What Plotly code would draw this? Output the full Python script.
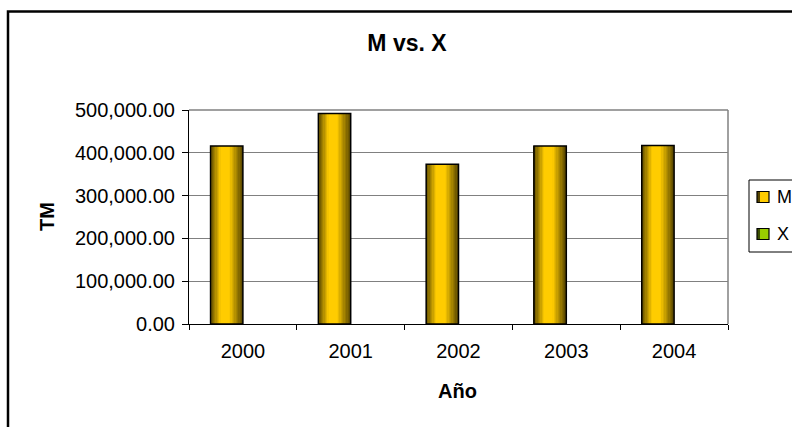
import plotly.graph_objects as go

# ---- data -------------------------------------------------------------
years = ["2000", "2001", "2002", "2003", "2004"]
m_values = [416000, 492000, 373000, 416000, 417000]
x_values = [0, 0, 0, 0, 0]
y_ticks = [0, 100000, 200000, 300000, 400000, 500000]

# ---- layout constants (pixels) -----------------------------------------
W, H = 792, 427
L, R, T, B = 189, 728, 110, 324          # plot area edges
FONT = "Liberation Sans, Arial, sans-serif"
BAR_W = 0.30                              # bar width in category units
N_STRIPS = 24

DARK = (88, 70, 0)
BRIGHT = (255, 204, 0)


def px(x):
    return (x - L) / (R - L)


def py(y):
    return (B - y) / (B - T)


def shade(t, peak=0.45):
    f = t / peak if t < peak else (1 - t) / (1 - peak)
    f = min(1.0, f * 1.35)
    c = [round(d + (b - d) * f) for d, b in zip(DARK, BRIGHT)]
    return "rgb(%d,%d,%d)" % tuple(c)


fig = go.Figure()

# base fill for series M
fig.add_trace(go.Bar(
    x=years, y=m_values, name="M", offset=-BAR_W, width=BAR_W,
    marker=dict(color="#FFCC00", line=dict(width=0)),
    showlegend=False, hoverinfo="skip",
))

# horizontal cylinder-like shading, drawn as thin slices of each bar
sw = BAR_W / N_STRIPS
for i in range(N_STRIPS):
    t = (i + 0.5) / N_STRIPS
    fig.add_trace(go.Bar(
        x=years, y=m_values, offset=-BAR_W + i * sw,
        width=sw * (1.15 if i < N_STRIPS - 1 else 1.0),
        marker=dict(color=shade(t), line=dict(width=0)),
        showlegend=False, hoverinfo="skip",
    ))

# outline of series M
fig.add_trace(go.Bar(
    x=years, y=m_values, name="M", offset=-BAR_W, width=BAR_W,
    marker=dict(color="rgba(0,0,0,0)", line=dict(color="black", width=1.5)),
    showlegend=False,
))

# series X (all zero)
fig.add_trace(go.Bar(
    x=years, y=x_values, name="X", offset=0, width=BAR_W,
    marker=dict(color="#99CC00", line=dict(width=0)),
    showlegend=False,
))

shapes = [
    # plot-area border (top / right)
    dict(type="line", xref="paper", yref="paper", x0=0, x1=1, y0=1, y1=1,
         line=dict(color="#808080", width=1.5)),
    dict(type="line", xref="paper", yref="paper", x0=1, x1=1, y0=0, y1=1,
         line=dict(color="#808080", width=1.5)),
    # chart-area frame
    dict(type="rect", xref="paper", yref="paper",
         x0=px(8), x1=px(830), y0=py(11.5), y1=py(470),
         line=dict(color="black", width=2.5), fillcolor="rgba(0,0,0,0)"),
    # legend box
    dict(type="rect", xref="paper", yref="paper",
         x0=px(749), x1=px(830), y0=py(180), y1=py(252),
         line=dict(color="black", width=1), fillcolor="white"),
]

annotations = []
legend_items = [("M", 197, DARK, BRIGHT), ("X", 234, (60, 80, 0), (153, 204, 0))]
for name, cy, dk, br in legend_items:
    # symbol: dark edge + bright body, black border
    shapes.append(dict(type="rect", xref="paper", yref="paper",
                       x0=px(757), x1=px(769), y0=py(cy + 5.5), y1=py(cy - 5.5),
                       line=dict(width=0), fillcolor="rgb(%d,%d,%d)" % br))
    shapes.append(dict(type="rect", xref="paper", yref="paper",
                       x0=px(757), x1=px(760), y0=py(cy + 5.5), y1=py(cy - 5.5),
                       line=dict(width=0), fillcolor="rgb(%d,%d,%d)" % dk))
    shapes.append(dict(type="rect", xref="paper", yref="paper",
                       x0=px(757), x1=px(769), y0=py(cy + 5.5), y1=py(cy - 5.5),
                       line=dict(color="black", width=1.2), fillcolor="rgba(0,0,0,0)"))
    annotations.append(dict(text=name, xref="paper", yref="paper",
                            x=px(775), y=py(cy), xanchor="left", yanchor="middle",
                            showarrow=False, font=dict(family=FONT, size=18, color="black")))

# axis titles
annotations.append(dict(text="<b>TM</b>", xref="paper", yref="paper",
                        x=px(47), y=py(217), xanchor="center", yanchor="middle",
                        textangle=-90, showarrow=False,
                        font=dict(family=FONT, size=20, color="black")))
annotations.append(dict(text="<b>Año</b>", xref="paper", yref="paper",
                        x=px(457), y=py(391), xanchor="center", yanchor="middle",
                        showarrow=False, font=dict(family=FONT, size=20, color="black")))

fig.update_layout(
    width=W, height=H,
    margin=dict(l=L, r=W - R, t=T, b=H - B, pad=0),
    paper_bgcolor="white", plot_bgcolor="white",
    barmode="overlay",
    showlegend=False,
    title=dict(text="<b>M vs. X</b>", x=407 / W, xref="container", xanchor="center",
               y=1 - 43 / H, yref="container", yanchor="middle",
               font=dict(family=FONT, size=23, color="black")),
    xaxis=dict(type="category", range=[-0.5, 4.5], tickson="boundaries",
               ticks="outside", ticklen=5, tickcolor="black", tickwidth=1,
               showline=True, linecolor="black", linewidth=1,
               showgrid=False, zeroline=False, ticklabelstandoff=9,
               tickfont=dict(family=FONT, size=20, color="black")),
    yaxis=dict(range=[0, 500000], tickvals=y_ticks, tickformat=",.2f",
               ticks="outside", ticklen=6, tickcolor="black", tickwidth=1,
               showline=True, linecolor="black", linewidth=1,
               showgrid=True, gridcolor="#808080", gridwidth=1,
               zeroline=False, ticklabelstandoff=3,
               tickfont=dict(family=FONT, size=20, color="black")),
    shapes=shapes,
    annotations=annotations,
)

fig.write_html("out.html")
